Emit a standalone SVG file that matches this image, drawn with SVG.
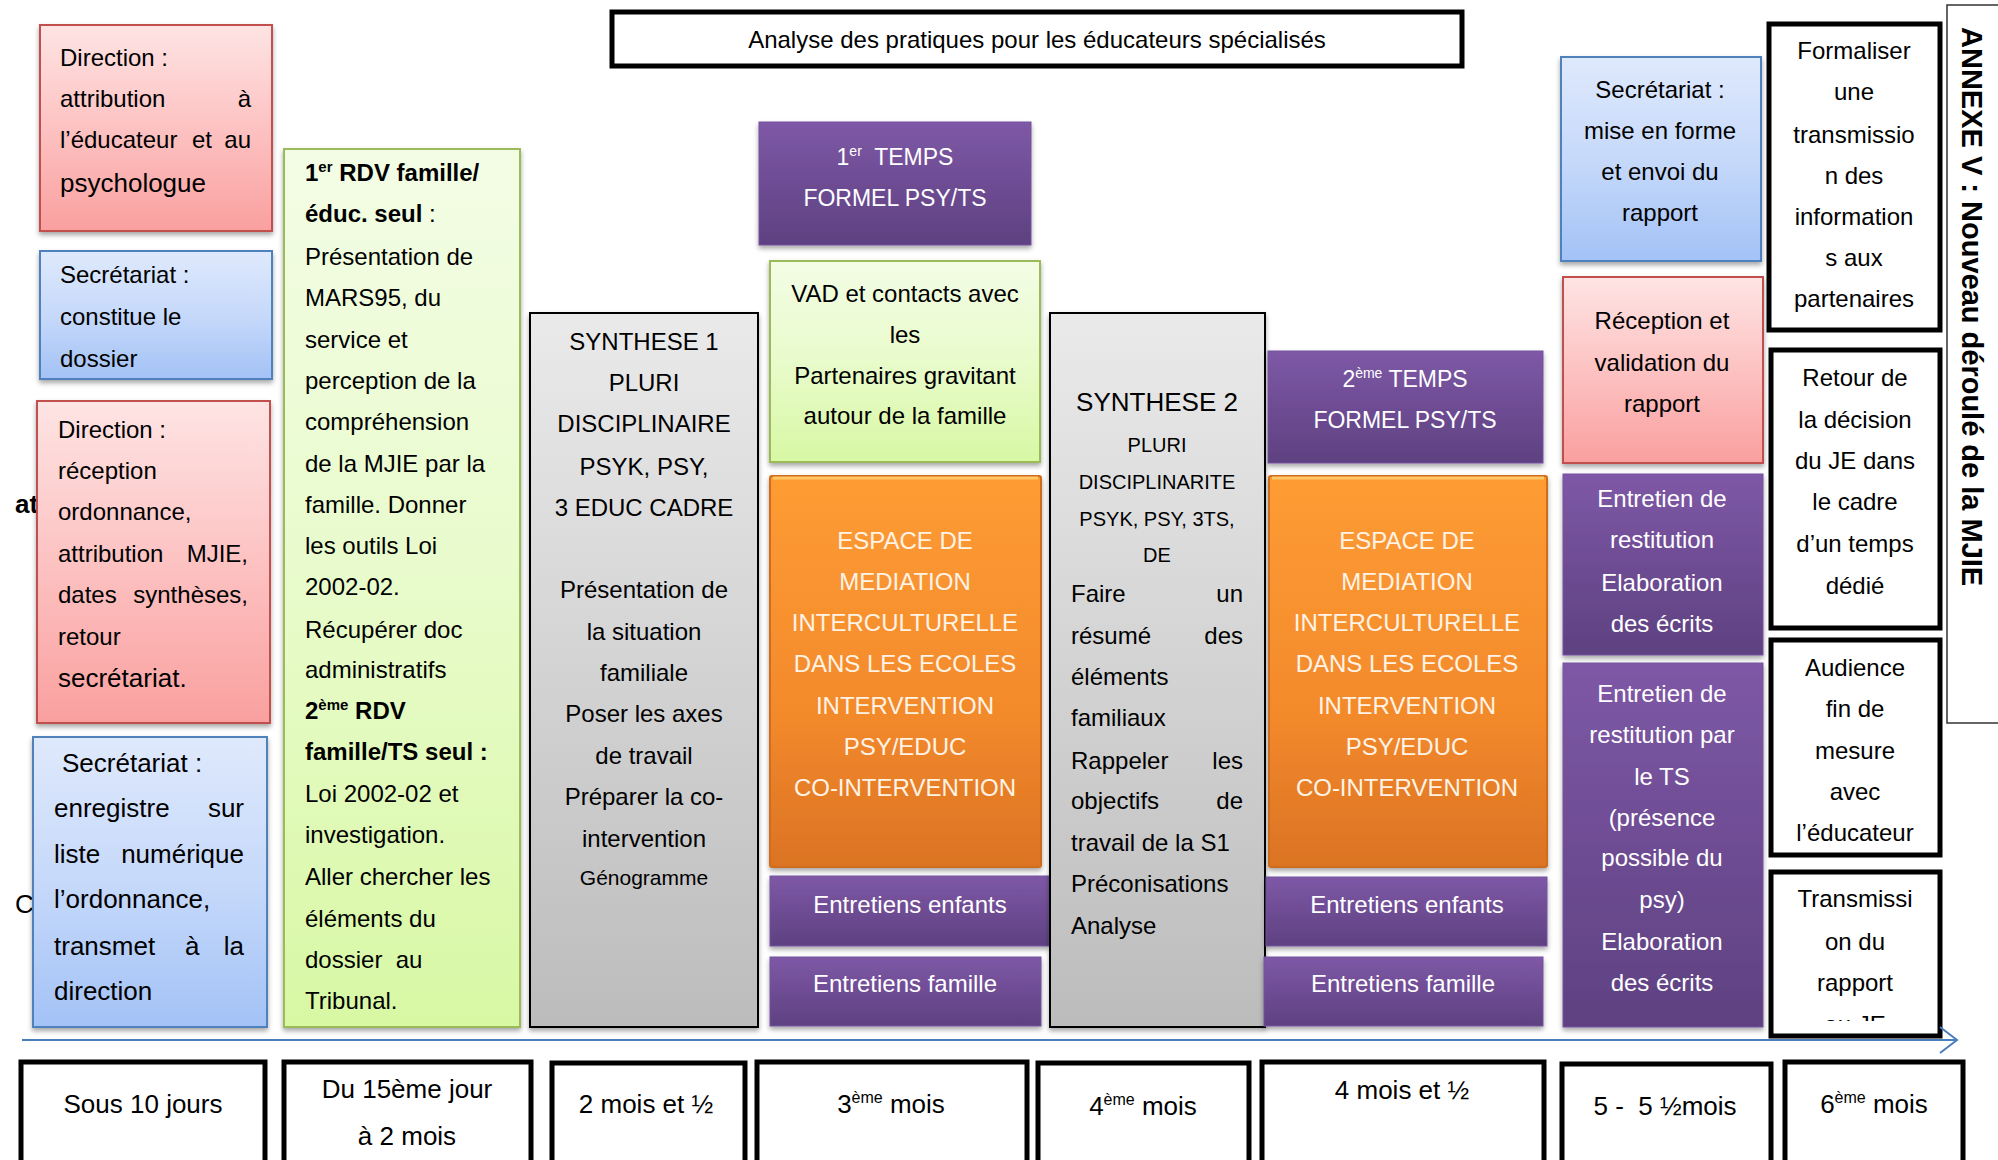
<svg xmlns="http://www.w3.org/2000/svg" width="1998" height="1160" viewBox="0 0 1998 1160">
  <defs>
    <linearGradient id="gRed" x1="0" y1="0" x2="0" y2="1">
      <stop offset="0" stop-color="#fee4e4"/>
      <stop offset="0.5" stop-color="#fdc2c2"/>
      <stop offset="1" stop-color="#f9a09f"/>
    </linearGradient>
    <linearGradient id="gBlue" x1="0" y1="0" x2="0" y2="1">
      <stop offset="0" stop-color="#dfe9fc"/>
      <stop offset="0.5" stop-color="#c6d9fa"/>
      <stop offset="1" stop-color="#a3c2f6"/>
    </linearGradient>
    <linearGradient id="gGreen" x1="0" y1="0" x2="0" y2="1">
      <stop offset="0" stop-color="#f3fde5"/>
      <stop offset="0.5" stop-color="#e8fbcb"/>
      <stop offset="1" stop-color="#d8f8a4"/>
    </linearGradient>
    <linearGradient id="gGrey" x1="0" y1="0" x2="0" y2="1">
      <stop offset="0" stop-color="#eaeaea"/>
      <stop offset="1" stop-color="#bcbcbc"/>
    </linearGradient>
    <linearGradient id="gPurple" x1="0" y1="0" x2="0" y2="1">
      <stop offset="0" stop-color="#7e58a6"/>
      <stop offset="1" stop-color="#5e4181"/>
    </linearGradient>
    <linearGradient id="gOrange" x1="0" y1="0" x2="0" y2="1">
      <stop offset="0" stop-color="#fe9c33"/>
      <stop offset="0.6" stop-color="#f38a2c"/>
      <stop offset="1" stop-color="#db7324"/>
    </linearGradient>
    <filter id="sh" x="-10%" y="-10%" width="120%" height="130%">
      <feDropShadow dx="0" dy="3" stdDeviation="2.5" flood-color="#000" flood-opacity="0.35"/>
    </filter>
    <clipPath id="clipTr">
      <rect x="1771" y="872" width="169" height="149"/>
    </clipPath>
    <marker id="open" markerWidth="20" markerHeight="30" refX="18" refY="15" orient="auto" markerUnits="userSpaceOnUse">
      <path d="M1,2 L18,15 L1,28" fill="none" stroke="#4a7ebb" stroke-width="2"/>
    </marker>
  </defs>
  <style>
    text { font-family: "Liberation Sans", Arial, sans-serif; font-size: 24px; fill: #000; }
    .c { text-anchor: middle; }
    .e { text-anchor: end; }
    .w { fill: #fff; }
    .wo { fill: #fff3e6; }
    .b { font-weight: bold; }
    .f26 { font-size: 26px; }
    .f20 { font-size: 20px; }
    .f21 { font-size: 21px; }
    .f23 { font-size: 23px; }
    .f29 { font-size: 29px; }
    .red { fill: url(#gRed); stroke: #c0504d; stroke-width: 2; filter: url(#sh); }
    .blue { fill: url(#gBlue); stroke: #4f81bd; stroke-width: 2; filter: url(#sh); }
    .green { fill: url(#gGreen); stroke: #9bbb59; stroke-width: 2; filter: url(#sh); }
    .grey { fill: url(#gGrey); stroke: #000; stroke-width: 2; filter: url(#sh); }
    .purple { fill: url(#gPurple); stroke: #7452a0; stroke-width: 1; filter: url(#sh); }
    .orange { fill: url(#gOrange); stroke: #cf6d1f; stroke-width: 2; filter: url(#sh); }
    .frame { fill: #fff; stroke: #000; stroke-width: 5; }
    .time { fill: #fff; stroke: #000; stroke-width: 5; }
  </style>

  <rect width="1998" height="1160" fill="#fff"/>

  <!-- text partly hidden behind the left column -->
  <text x="15" y="513" class="b f26">at</text>
  <text x="15" y="913" class="f26">C</text>

  <!-- title -->
  <g id="title">
    <rect x="612" y="12" width="850" height="54" class="frame"/>
    <text x="1037" y="48" class="c">Analyse des pratiques pour les éducateurs spécialisés</text>
  </g>

  <!-- left column -->
  <g id="dir1">
    <rect x="40" y="25" width="232" height="206" class="red"/>
    <text x="60" y="66">Direction :</text>
    <text x="60" y="107">attribution</text><text x="251" y="107" class="e">à</text>
    <text x="60" y="148">l’éducateur</text><text x="192" y="148">et</text><text x="251" y="148" class="e">au</text>
    <text x="60" y="192" class="f26">psychologue</text>
  </g>
  <g id="sec1">
    <rect x="40" y="251" width="232" height="128" class="blue"/>
    <text x="60" y="283">Secrétariat :</text>
    <text x="60" y="325">constitue le</text>
    <text x="60" y="367">dossier</text>
  </g>
  <g id="dir2">
    <rect x="37" y="401" width="233" height="322" class="red"/>
    <text x="58" y="438">Direction :</text>
    <text x="58" y="479">réception</text>
    <text x="58" y="520">ordonnance,</text>
    <text x="58" y="562">attribution</text><text x="248" y="562" class="e">MJIE,</text>
    <text x="58" y="603">dates</text><text x="248" y="603" class="e">synthèses,</text>
    <text x="58" y="645">retour</text>
    <text x="58" y="687" class="f26">secrétariat.</text>
  </g>
  <g id="sec2">
    <rect x="33" y="737" width="234" height="290" class="blue"/>
    <text x="62" y="772" class="f26">Secrétariat :</text>
    <text x="54" y="817" class="f26">enregistre</text><text x="244" y="817" class="f26 e">sur</text>
    <text x="54" y="863" class="f26">liste</text><text x="244" y="863" class="f26 e">numérique</text>
    <text x="54" y="908" class="f26">l’ordonnance,</text>
    <text x="54" y="955" class="f26">transmet</text><text x="185" y="955" class="f26">à</text><text x="244" y="955" class="f26 e">la</text>
    <text x="54" y="1000" class="f26">direction</text>
  </g>

  <!-- first meetings -->
  <g id="rdv">
    <rect x="284" y="149" width="236" height="878" class="green"/>
    <text x="305" y="181" class="b">1<tspan dy="-9" font-size="15">er</tspan><tspan dy="9"> RDV famille/</tspan></text>
    <text x="305" y="222"><tspan class="b">éduc. seul</tspan> :</text>
    <text x="305" y="265">Présentation de</text>
    <text x="305" y="306">MARS95, du</text>
    <text x="305" y="348">service et</text>
    <text x="305" y="389">perception de la</text>
    <text x="305" y="430">compréhension</text>
    <text x="305" y="472">de la MJIE par la</text>
    <text x="305" y="513">famille. Donner</text>
    <text x="305" y="554">les outils Loi</text>
    <text x="305" y="595">2002-02.</text>
    <text x="305" y="638">Récupérer doc</text>
    <text x="305" y="678">administratifs</text>
    <text x="305" y="719" class="b">2<tspan dy="-9" font-size="15">ème</tspan><tspan dy="9"> RDV</tspan></text>
    <text x="305" y="760" class="b">famille/TS seul :</text>
    <text x="305" y="802">Loi 2002-02 et</text>
    <text x="305" y="843">investigation.</text>
    <text x="305" y="885">Aller chercher les</text>
    <text x="305" y="927">éléments du</text>
    <text x="305" y="968">dossier&#160; au</text>
    <text x="305" y="1009">Tribunal.</text>
  </g>

  <!-- synthesis 1 -->
  <g id="synth1">
    <rect x="530" y="313" width="228" height="714" class="grey"/>
    <text x="644" y="350" class="c">SYNTHESE 1</text>
    <text x="644" y="391" class="c">PLURI</text>
    <text x="644" y="432" class="c">DISCIPLINAIRE</text>
    <text x="644" y="475" class="c">PSYK, PSY,</text>
    <text x="644" y="516" class="c">3 EDUC CADRE</text>
    <text x="644" y="598" class="c">Présentation de</text>
    <text x="644" y="640" class="c">la situation</text>
    <text x="644" y="681" class="c">familiale</text>
    <text x="644" y="722" class="c">Poser les axes</text>
    <text x="644" y="764" class="c">de travail</text>
    <text x="644" y="805" class="c">Préparer la co-</text>
    <text x="644" y="847" class="c">intervention</text>
    <text x="644" y="885" class="c f21">Génogramme</text>
  </g>

  <!-- third month column -->
  <g id="temps1">
    <rect x="759" y="122" width="272" height="123" class="purple"/>
    <text x="895" y="165" class="c w f23">1<tspan dy="-9" font-size="14">er</tspan><tspan dy="9">&#160; TEMPS</tspan></text>
    <text x="895" y="206" class="c w f23">FORMEL PSY/TS</text>
  </g>
  <g id="vad">
    <rect x="770" y="261" width="270" height="201" class="green"/>
    <text x="905" y="302" class="c">VAD et contacts avec</text>
    <text x="905" y="343" class="c">les</text>
    <text x="905" y="384" class="c">Partenaires gravitant</text>
    <text x="905" y="424" class="c">autour de la famille</text>
  </g>
  <g id="mediation1">
    <rect x="770" y="476" width="271" height="391" rx="2" class="orange"/>
    <line x1="773" y1="478" x2="1038" y2="478" stroke="#ffc766" stroke-width="3"/>
    <text x="905" y="549" class="c wo">ESPACE DE</text>
    <text x="905" y="590" class="c wo">MEDIATION</text>
    <text x="905" y="631" class="c wo">INTERCULTURELLE</text>
    <text x="905" y="672" class="c wo">DANS LES ECOLES</text>
    <text x="905" y="714" class="c wo">INTERVENTION</text>
    <text x="905" y="755" class="c wo">PSY/EDUC</text>
    <text x="905" y="796" class="c wo">CO-INTERVENTION</text>
  </g>
  <g id="enfants1">
    <rect x="770" y="876" width="279" height="70" class="purple"/>
    <text x="910" y="913" class="c w">Entretiens enfants</text>
  </g>
  <g id="famille1">
    <rect x="770" y="957" width="271" height="69" class="purple"/>
    <text x="905" y="992" class="c w">Entretiens famille</text>
  </g>

  <!-- synthesis 2 -->
  <g id="synth2">
    <rect x="1050" y="313" width="215" height="714" class="grey"/>
    <text x="1157" y="411" class="c f26">SYNTHESE 2</text>
    <text x="1157" y="452" class="c f20">PLURI</text>
    <text x="1157" y="489" class="c f20">DISCIPLINARITE</text>
    <text x="1157" y="526" class="c f20">PSYK, PSY, 3TS,</text>
    <text x="1157" y="562" class="c f20">DE</text>
    <text x="1071" y="602">Faire</text><text x="1243" y="602" class="e">un</text>
    <text x="1071" y="644">résumé</text><text x="1243" y="644" class="e">des</text>
    <text x="1071" y="685">éléments</text>
    <text x="1071" y="726">familiaux</text>
    <text x="1071" y="769">Rappeler</text><text x="1243" y="769" class="e">les</text>
    <text x="1071" y="809">objectifs</text><text x="1243" y="809" class="e">de</text>
    <text x="1071" y="851">travail de la S1</text>
    <text x="1071" y="892">Préconisations</text>
    <text x="1071" y="934">Analyse</text>
  </g>

  <!-- four and a half months column -->
  <g id="temps2">
    <rect x="1268" y="351" width="275" height="112" class="purple"/>
    <text x="1405" y="387" class="c w f23">2<tspan dy="-9" font-size="14">ème</tspan><tspan dy="9"> TEMPS</tspan></text>
    <text x="1405" y="428" class="c w f23">FORMEL PSY/TS</text>
  </g>
  <g id="mediation2">
    <rect x="1269" y="476" width="278" height="391" rx="2" class="orange"/>
    <line x1="1272" y1="478" x2="1544" y2="478" stroke="#ffc766" stroke-width="3"/>
    <text x="1407" y="549" class="c wo">ESPACE DE</text>
    <text x="1407" y="590" class="c wo">MEDIATION</text>
    <text x="1407" y="631" class="c wo">INTERCULTURELLE</text>
    <text x="1407" y="672" class="c wo">DANS LES ECOLES</text>
    <text x="1407" y="714" class="c wo">INTERVENTION</text>
    <text x="1407" y="755" class="c wo">PSY/EDUC</text>
    <text x="1407" y="796" class="c wo">CO-INTERVENTION</text>
  </g>
  <g id="enfants2">
    <rect x="1266" y="877" width="281" height="69" class="purple"/>
    <text x="1407" y="913" class="c w">Entretiens enfants</text>
  </g>
  <g id="famille2">
    <rect x="1264" y="957" width="279" height="69" class="purple"/>
    <text x="1403" y="992" class="c w">Entretiens famille</text>
  </g>

  <!-- report column -->
  <g id="sec3">
    <rect x="1561" y="57" width="200" height="204" class="blue"/>
    <text x="1660" y="98" class="c">Secrétariat :</text>
    <text x="1660" y="139" class="c">mise en forme</text>
    <text x="1660" y="180" class="c">et envoi du</text>
    <text x="1660" y="221" class="c">rapport</text>
  </g>
  <g id="reception">
    <rect x="1563" y="277" width="200" height="186" class="red"/>
    <text x="1662" y="329" class="c">Réception et</text>
    <text x="1662" y="371" class="c">validation du</text>
    <text x="1662" y="412" class="c">rapport</text>
  </g>
  <g id="restitution1">
    <rect x="1563" y="474" width="200" height="181" class="purple"/>
    <text x="1662" y="507" class="c w">Entretien de</text>
    <text x="1662" y="548" class="c w">restitution</text>
    <text x="1662" y="591" class="c w">Elaboration</text>
    <text x="1662" y="632" class="c w">des écrits</text>
  </g>
  <g id="restitution2">
    <rect x="1563" y="663" width="200" height="364" class="purple"/>
    <text x="1662" y="702" class="c w">Entretien de</text>
    <text x="1662" y="743" class="c w">restitution par</text>
    <text x="1662" y="785" class="c w">le TS</text>
    <text x="1662" y="826" class="c w">(présence</text>
    <text x="1662" y="866" class="c w">possible du</text>
    <text x="1662" y="908" class="c w">psy)</text>
    <text x="1662" y="950" class="c w">Elaboration</text>
    <text x="1662" y="991" class="c w">des écrits</text>
  </g>

  <!-- last month column -->
  <g id="formaliser">
    <rect x="1769" y="24" width="171" height="306" class="frame"/>
    <text x="1854" y="59" class="c">Formaliser</text>
    <text x="1854" y="100" class="c">une</text>
    <text x="1854" y="143" class="c">transmissio</text>
    <text x="1854" y="184" class="c">n des</text>
    <text x="1854" y="225" class="c">information</text>
    <text x="1854" y="266" class="c">s aux</text>
    <text x="1854" y="307" class="c">partenaires</text>
  </g>
  <g id="retour">
    <rect x="1771" y="350" width="169" height="278" class="frame"/>
    <text x="1855" y="386" class="c">Retour de</text>
    <text x="1855" y="428" class="c">la décision</text>
    <text x="1855" y="469" class="c">du JE dans</text>
    <text x="1855" y="510" class="c">le cadre</text>
    <text x="1855" y="552" class="c">d’un temps</text>
    <text x="1855" y="594" class="c">dédié</text>
  </g>
  <g id="audience">
    <rect x="1771" y="640" width="169" height="215" class="frame"/>
    <text x="1855" y="676" class="c">Audience</text>
    <text x="1855" y="717" class="c">fin de</text>
    <text x="1855" y="759" class="c">mesure</text>
    <text x="1855" y="800" class="c">avec</text>
    <text x="1855" y="841" class="c">l’éducateur</text>
  </g>
  <g id="transmission">
    <rect x="1771" y="872" width="169" height="164" class="frame"/>
    <g clip-path="url(#clipTr)">
      <text x="1855" y="907" class="c">Transmissi</text>
      <text x="1855" y="950" class="c">on du</text>
      <text x="1855" y="991" class="c">rapport</text>
      <text x="1855" y="1033" class="c">au JE</text>
    </g>
  </g>

  <!-- side heading -->
  <g id="annexe">
    <rect x="1947" y="5" width="70" height="718" fill="#fff" stroke="#333" stroke-width="1.5"/>
    <text transform="translate(1962,27) rotate(90)" class="b f29">ANNEXE V : Nouveau déroulé de la MJIE</text>
  </g>

  <!-- timeline -->
  <g id="connectors">
    <line x1="22" y1="1040" x2="1957" y2="1040" stroke="#4a7ebb" stroke-width="2" marker-end="url(#open)"/>
  </g>

  <!-- time scale -->
  <g id="t1">
    <rect x="21" y="1062" width="244" height="110" class="time"/>
    <text x="143" y="1113" class="c f26">Sous 10 jours</text>
  </g>
  <g id="t2">
    <rect x="284" y="1062" width="247" height="110" class="time"/>
    <text x="407" y="1098" class="c f26">Du 15ème jour</text>
    <text x="407" y="1145" class="c f26">à 2 mois</text>
  </g>
  <g id="t3">
    <rect x="552" y="1063" width="193" height="110" class="time"/>
    <text x="646" y="1113" class="c f26">2 mois et ½</text>
  </g>
  <g id="t4">
    <rect x="757" y="1062" width="270" height="110" class="time"/>
    <text x="891" y="1113" class="c f26">3<tspan dy="-10" font-size="16">ème</tspan><tspan dy="10"> mois</tspan></text>
  </g>
  <g id="t5">
    <rect x="1038" y="1063" width="211" height="110" class="time"/>
    <text x="1143" y="1115" class="c f26">4<tspan dy="-10" font-size="16">ème</tspan><tspan dy="10"> mois</tspan></text>
  </g>
  <g id="t6">
    <rect x="1262" y="1062" width="282" height="110" class="time"/>
    <text x="1402" y="1099" class="c f26">4 mois et ½</text>
  </g>
  <g id="t7">
    <rect x="1562" y="1064" width="209" height="110" class="time"/>
    <text x="1665" y="1115" class="c f26">5 -&#160; 5 ½mois</text>
  </g>
  <g id="t8">
    <rect x="1785" y="1062" width="178" height="110" class="time"/>
    <text x="1874" y="1113" class="c f26">6<tspan dy="-10" font-size="16">ème</tspan><tspan dy="10"> mois</tspan></text>
  </g>
</svg>
